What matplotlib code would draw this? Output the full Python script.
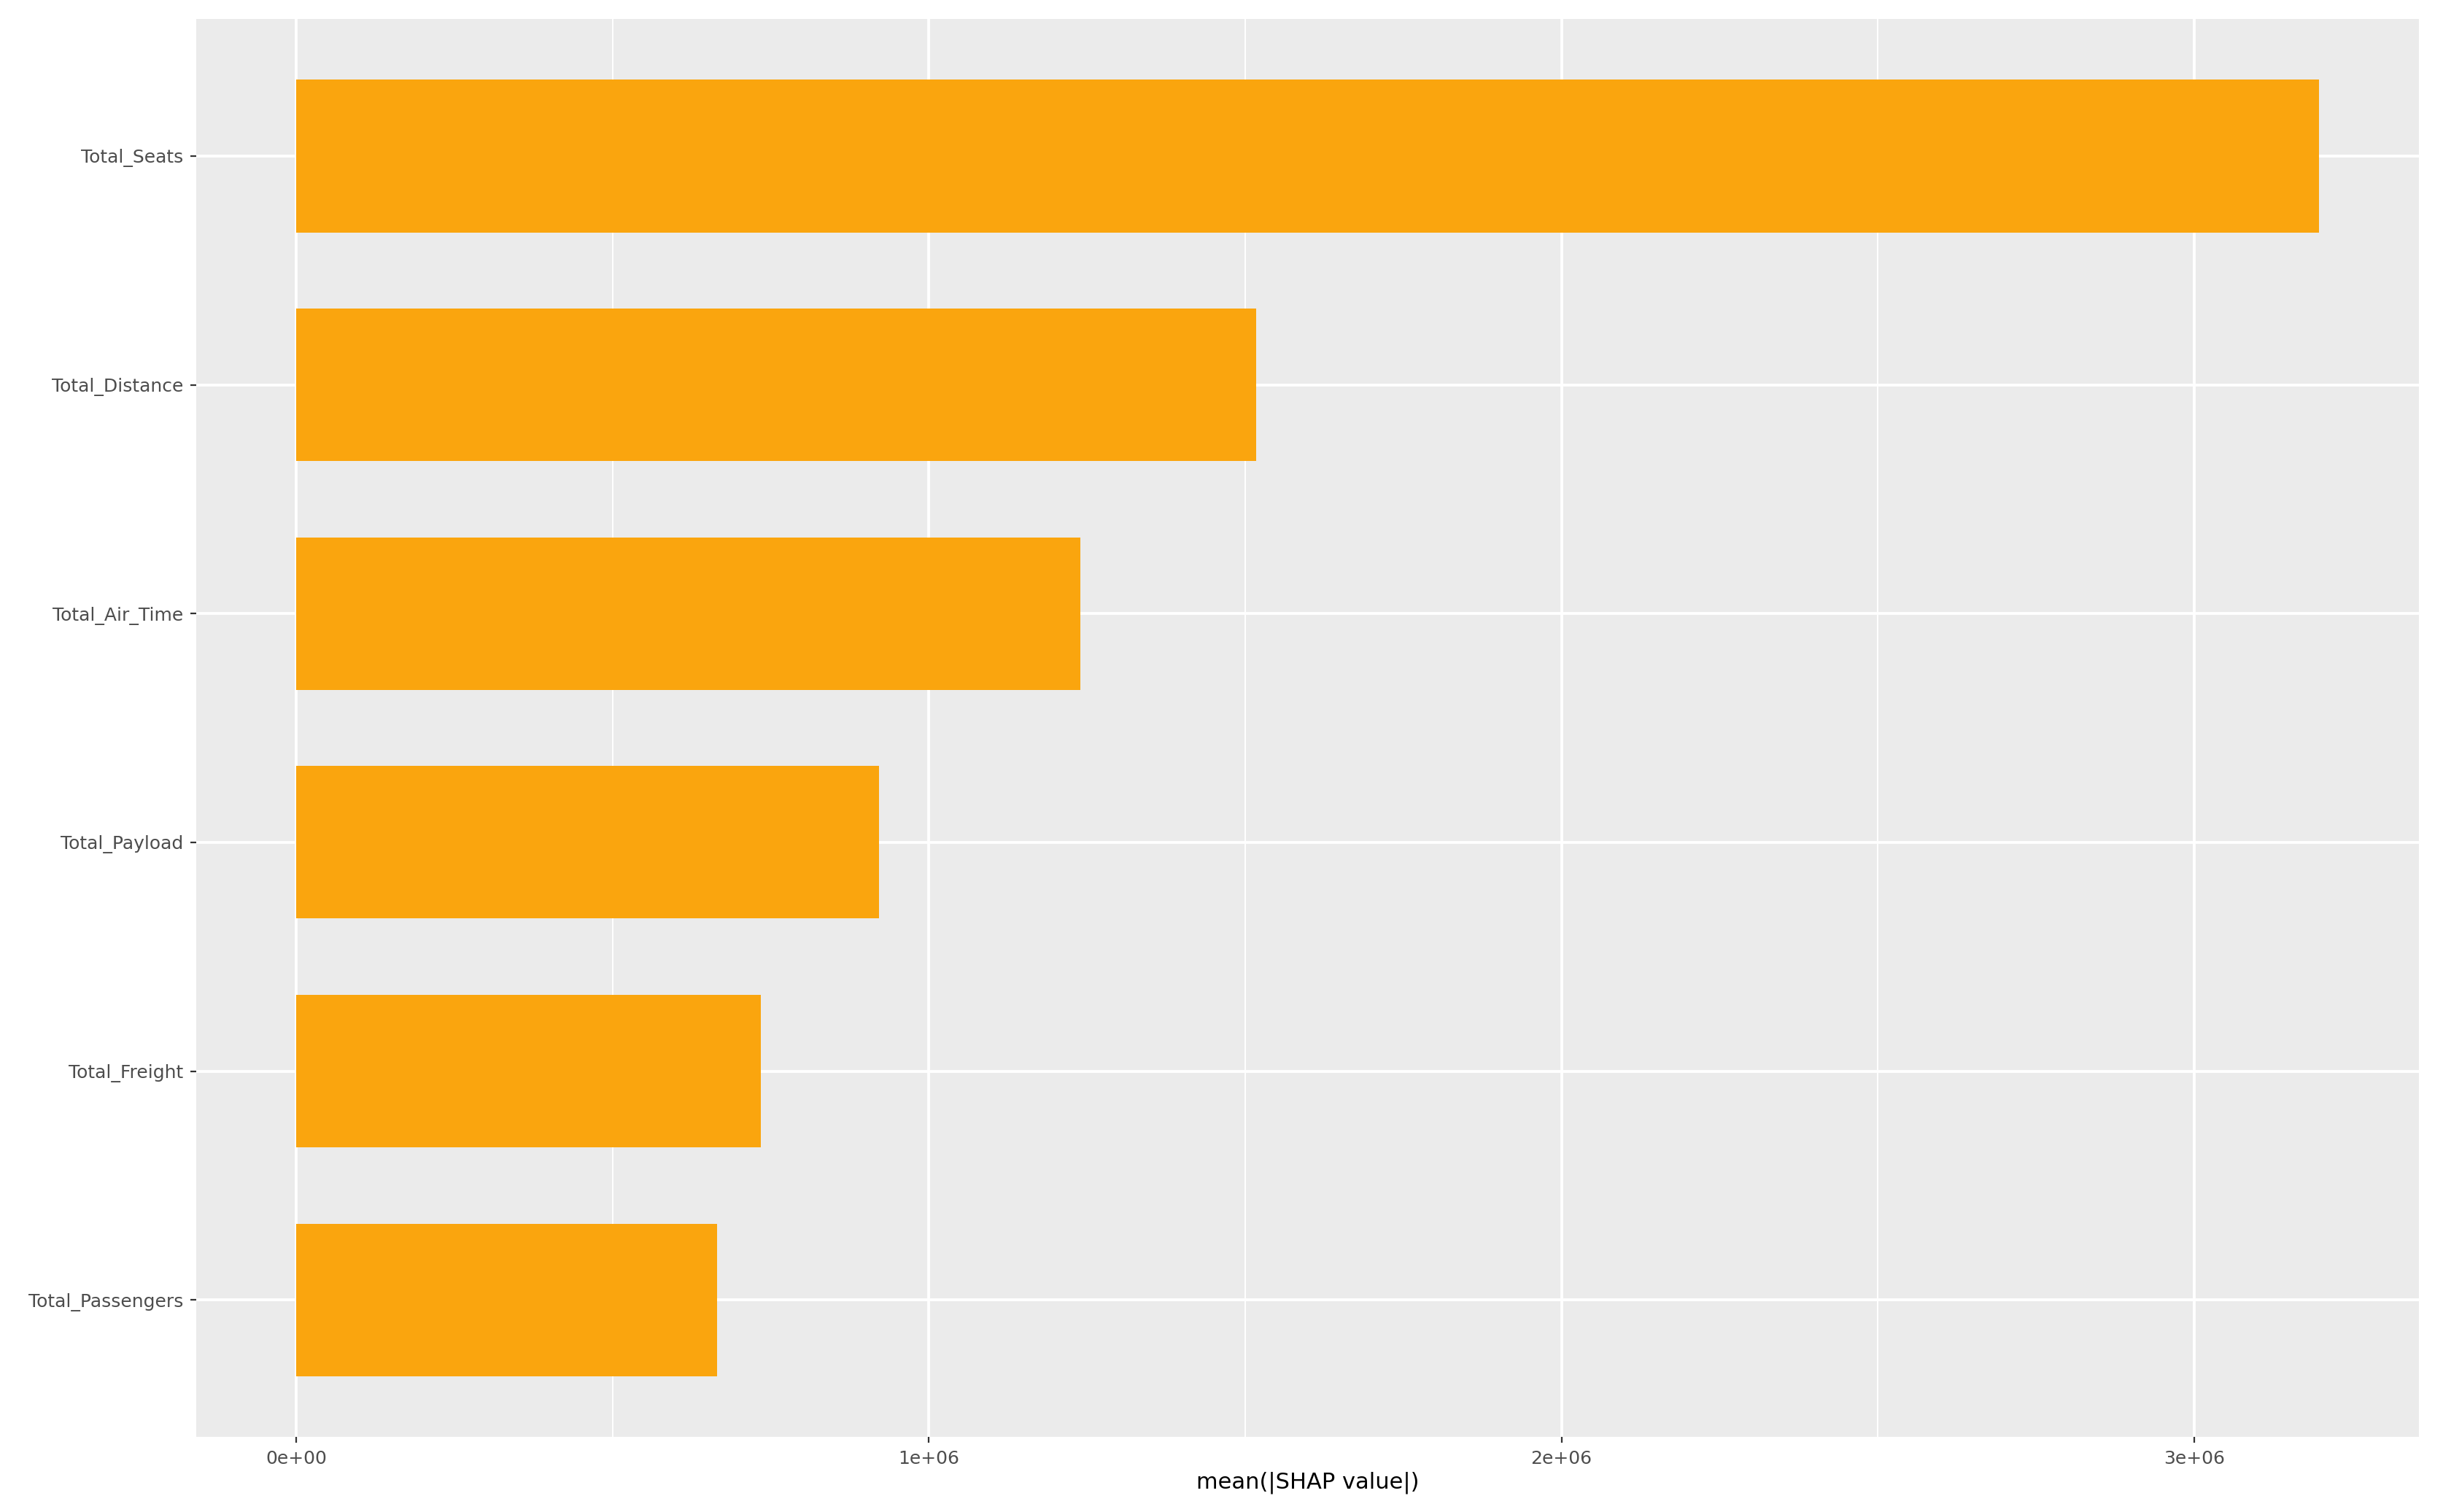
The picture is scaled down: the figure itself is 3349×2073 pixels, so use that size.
import matplotlib
matplotlib.use("Agg")
import matplotlib.pyplot as plt
import numpy as np

features = ["Total_Seats", "Total_Distance", "Total_Air_Time", "Total_Payload", "Total_Freight", "Total_Passengers"]
values = [3.197e6, 1.517e6, 1.239e6, 0.921e6, 0.734e6, 0.665e6]
xticks = [0, 1e6, 2e6, 3e6]
xticklabels = ["0e+00", "1e+06", "2e+06", "3e+06"]

fig = plt.figure(figsize=(3349/200, 2073/200), dpi=200)
ax = fig.add_axes([0.0804, 0.0495, 0.9096, 0.9381])
ax.set_facecolor("#EBEBEB")
y = np.arange(len(features))[::-1]
ax.barh(y, values, height=0.667, color="#FAA50E", zorder=3)
ax.set_yticks(y)
ax.set_yticklabels(features)
ax.set_xticks(xticks)
ax.set_xticklabels(xticklabels)
ax.set_xticks([0.5e6, 1.5e6, 2.5e6], minor=True)
ax.set_xlim(-0.158e6, 3.355e6)
ax.set_ylim(-0.6, 5.6)
ax.grid(True, which="major", color="white", linewidth=1.4, zorder=0)
ax.grid(True, which="minor", axis="x", color="white", linewidth=0.7, zorder=0)
for s in ax.spines.values():
    s.set_visible(False)
ax.tick_params(axis="both", which="major", labelsize=9, colors="#333333", length=3, width=0.8, labelcolor="#4D4D4D")
ax.tick_params(axis="both", which="minor", length=0)
ax.set_xlabel("mean(|SHAP value|)", fontsize=11, labelpad=2)
fig.savefig("out.png", dpi=200)
